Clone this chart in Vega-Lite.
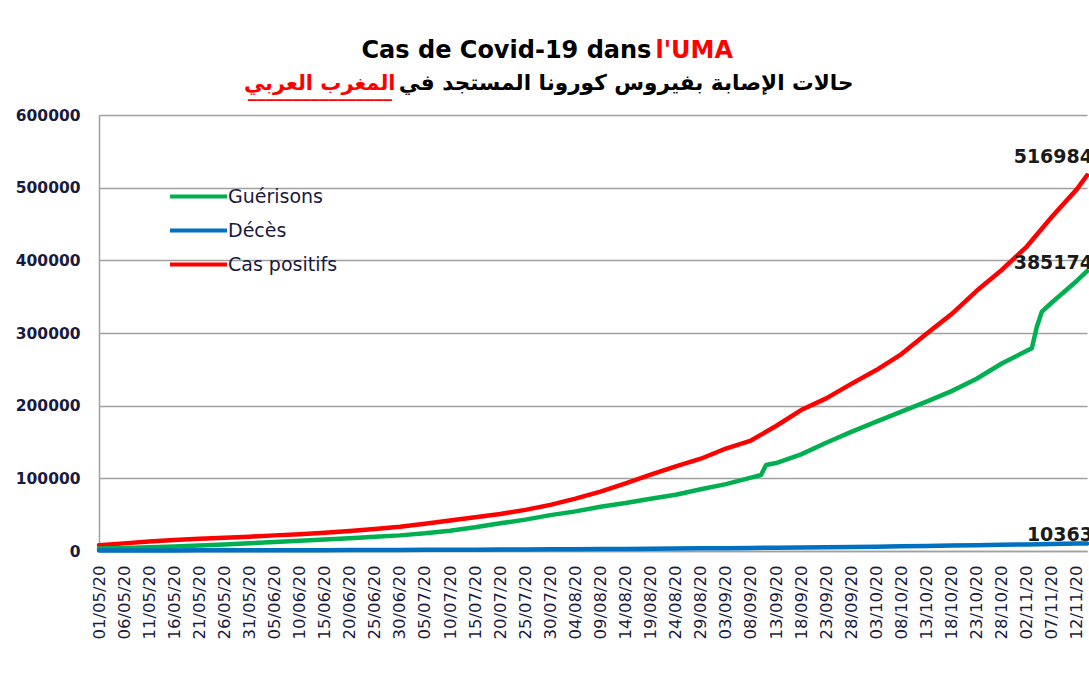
{
  "$schema": "https://vega.github.io/schema/vega-lite/v6.json",
  "width": 988,
  "height": 436,
  "autosize": {"type": "none"},
  "padding": {"left": 99, "top": 115, "right": 2, "bottom": 134},
  "background": "#ffffff",
  "title": {
    "text": "________________",
    "color": "#ff0000",
    "fontSize": 18,
    "fontWeight": "bold",
    "font": "DejaVu Sans",
    "anchor": "start",
    "frame": "group",
    "dx": 149,
    "dy": 67
  },
  "config": {
    "view": {"stroke": null},
    "font": "DejaVu Sans"
  },
  "data": {
    "values": [
      {"date": "2020-05-01", "serie": "Cas positifs", "value": 8000},
      {"date": "2020-05-06", "serie": "Cas positifs", "value": 10500},
      {"date": "2020-05-11", "serie": "Cas positifs", "value": 13200},
      {"date": "2020-05-16", "serie": "Cas positifs", "value": 15000},
      {"date": "2020-05-21", "serie": "Cas positifs", "value": 16800},
      {"date": "2020-05-26", "serie": "Cas positifs", "value": 18300},
      {"date": "2020-05-31", "serie": "Cas positifs", "value": 19700},
      {"date": "2020-06-05", "serie": "Cas positifs", "value": 21500},
      {"date": "2020-06-10", "serie": "Cas positifs", "value": 23200},
      {"date": "2020-06-15", "serie": "Cas positifs", "value": 25200},
      {"date": "2020-06-20", "serie": "Cas positifs", "value": 27400},
      {"date": "2020-06-25", "serie": "Cas positifs", "value": 30300},
      {"date": "2020-06-30", "serie": "Cas positifs", "value": 33400},
      {"date": "2020-07-05", "serie": "Cas positifs", "value": 37600},
      {"date": "2020-07-10", "serie": "Cas positifs", "value": 42000},
      {"date": "2020-07-15", "serie": "Cas positifs", "value": 46300},
      {"date": "2020-07-20", "serie": "Cas positifs", "value": 50900},
      {"date": "2020-07-25", "serie": "Cas positifs", "value": 56600},
      {"date": "2020-07-30", "serie": "Cas positifs", "value": 63500},
      {"date": "2020-08-04", "serie": "Cas positifs", "value": 72000},
      {"date": "2020-08-09", "serie": "Cas positifs", "value": 81600},
      {"date": "2020-08-14", "serie": "Cas positifs", "value": 93000},
      {"date": "2020-08-19", "serie": "Cas positifs", "value": 105000},
      {"date": "2020-08-24", "serie": "Cas positifs", "value": 116500},
      {"date": "2020-08-29", "serie": "Cas positifs", "value": 127000},
      {"date": "2020-09-03", "serie": "Cas positifs", "value": 141000},
      {"date": "2020-09-08", "serie": "Cas positifs", "value": 152000},
      {"date": "2020-09-13", "serie": "Cas positifs", "value": 172000},
      {"date": "2020-09-18", "serie": "Cas positifs", "value": 194000},
      {"date": "2020-09-23", "serie": "Cas positifs", "value": 210000},
      {"date": "2020-09-28", "serie": "Cas positifs", "value": 230000},
      {"date": "2020-10-03", "serie": "Cas positifs", "value": 249000},
      {"date": "2020-10-08", "serie": "Cas positifs", "value": 271000},
      {"date": "2020-10-13", "serie": "Cas positifs", "value": 299000},
      {"date": "2020-10-18", "serie": "Cas positifs", "value": 326000},
      {"date": "2020-10-23", "serie": "Cas positifs", "value": 358000},
      {"date": "2020-10-28", "serie": "Cas positifs", "value": 386700},
      {"date": "2020-11-02", "serie": "Cas positifs", "value": 419000},
      {"date": "2020-11-07", "serie": "Cas positifs", "value": 460000},
      {"date": "2020-11-12", "serie": "Cas positifs", "value": 498000},
      {"date": "2020-11-14", "serie": "Cas positifs", "value": 516984},
      {"date": "2020-05-01", "serie": "Guérisons", "value": 3500},
      {"date": "2020-05-06", "serie": "Guérisons", "value": 4300},
      {"date": "2020-05-11", "serie": "Guérisons", "value": 5000},
      {"date": "2020-05-16", "serie": "Guérisons", "value": 6300},
      {"date": "2020-05-21", "serie": "Guérisons", "value": 7600},
      {"date": "2020-05-26", "serie": "Guérisons", "value": 9000},
      {"date": "2020-05-31", "serie": "Guérisons", "value": 10600},
      {"date": "2020-06-05", "serie": "Guérisons", "value": 12300},
      {"date": "2020-06-10", "serie": "Guérisons", "value": 14200},
      {"date": "2020-06-15", "serie": "Guérisons", "value": 15900},
      {"date": "2020-06-20", "serie": "Guérisons", "value": 17500},
      {"date": "2020-06-25", "serie": "Guérisons", "value": 19500},
      {"date": "2020-06-30", "serie": "Guérisons", "value": 21500},
      {"date": "2020-07-05", "serie": "Guérisons", "value": 24300},
      {"date": "2020-07-10", "serie": "Guérisons", "value": 28000},
      {"date": "2020-07-15", "serie": "Guérisons", "value": 32600},
      {"date": "2020-07-20", "serie": "Guérisons", "value": 38100},
      {"date": "2020-07-25", "serie": "Guérisons", "value": 43200},
      {"date": "2020-07-30", "serie": "Guérisons", "value": 49400},
      {"date": "2020-08-04", "serie": "Guérisons", "value": 54500},
      {"date": "2020-08-09", "serie": "Guérisons", "value": 61000},
      {"date": "2020-08-14", "serie": "Guérisons", "value": 66000},
      {"date": "2020-08-19", "serie": "Guérisons", "value": 72000},
      {"date": "2020-08-24", "serie": "Guérisons", "value": 77500},
      {"date": "2020-08-29", "serie": "Guérisons", "value": 85000},
      {"date": "2020-09-03", "serie": "Guérisons", "value": 92000},
      {"date": "2020-09-08", "serie": "Guérisons", "value": 101000},
      {"date": "2020-09-10", "serie": "Guérisons", "value": 104600},
      {"date": "2020-09-11", "serie": "Guérisons", "value": 118300},
      {"date": "2020-09-13", "serie": "Guérisons", "value": 121000},
      {"date": "2020-09-18", "serie": "Guérisons", "value": 133000},
      {"date": "2020-09-23", "serie": "Guérisons", "value": 149000},
      {"date": "2020-09-28", "serie": "Guérisons", "value": 164000},
      {"date": "2020-10-03", "serie": "Guérisons", "value": 178000},
      {"date": "2020-10-08", "serie": "Guérisons", "value": 191700},
      {"date": "2020-10-13", "serie": "Guérisons", "value": 205500},
      {"date": "2020-10-18", "serie": "Guérisons", "value": 220000},
      {"date": "2020-10-23", "serie": "Guérisons", "value": 237000},
      {"date": "2020-10-28", "serie": "Guérisons", "value": 258000},
      {"date": "2020-11-02", "serie": "Guérisons", "value": 275500},
      {"date": "2020-11-03", "serie": "Guérisons", "value": 278900},
      {"date": "2020-11-04", "serie": "Guérisons", "value": 308700},
      {"date": "2020-11-05", "serie": "Guérisons", "value": 329300},
      {"date": "2020-11-07", "serie": "Guérisons", "value": 342000},
      {"date": "2020-11-12", "serie": "Guérisons", "value": 372000},
      {"date": "2020-11-14", "serie": "Guérisons", "value": 385174},
      {"date": "2020-05-01", "serie": "Décès", "value": 650},
      {"date": "2020-05-06", "serie": "Décès", "value": 720},
      {"date": "2020-05-11", "serie": "Décès", "value": 790},
      {"date": "2020-05-16", "serie": "Décès", "value": 850},
      {"date": "2020-05-21", "serie": "Décès", "value": 900},
      {"date": "2020-05-26", "serie": "Décès", "value": 950},
      {"date": "2020-05-31", "serie": "Décès", "value": 990},
      {"date": "2020-06-05", "serie": "Décès", "value": 1040},
      {"date": "2020-06-10", "serie": "Décès", "value": 1090},
      {"date": "2020-06-15", "serie": "Décès", "value": 1150},
      {"date": "2020-06-20", "serie": "Décès", "value": 1230},
      {"date": "2020-06-25", "serie": "Décès", "value": 1330},
      {"date": "2020-06-30", "serie": "Décès", "value": 1450},
      {"date": "2020-07-05", "serie": "Décès", "value": 1570},
      {"date": "2020-07-10", "serie": "Décès", "value": 1700},
      {"date": "2020-07-15", "serie": "Décès", "value": 1820},
      {"date": "2020-07-20", "serie": "Décès", "value": 1950},
      {"date": "2020-07-25", "serie": "Décès", "value": 2100},
      {"date": "2020-07-30", "serie": "Décès", "value": 2280},
      {"date": "2020-08-04", "serie": "Décès", "value": 2480},
      {"date": "2020-08-09", "serie": "Décès", "value": 2700},
      {"date": "2020-08-14", "serie": "Décès", "value": 2920},
      {"date": "2020-08-19", "serie": "Décès", "value": 3150},
      {"date": "2020-08-24", "serie": "Décès", "value": 3400},
      {"date": "2020-08-29", "serie": "Décès", "value": 3650},
      {"date": "2020-09-03", "serie": "Décès", "value": 3930},
      {"date": "2020-09-08", "serie": "Décès", "value": 4220},
      {"date": "2020-09-13", "serie": "Décès", "value": 4530},
      {"date": "2020-09-18", "serie": "Décès", "value": 4850},
      {"date": "2020-09-23", "serie": "Décès", "value": 5200},
      {"date": "2020-09-28", "serie": "Décès", "value": 5550},
      {"date": "2020-10-03", "serie": "Décès", "value": 5950},
      {"date": "2020-10-08", "serie": "Décès", "value": 6400},
      {"date": "2020-10-13", "serie": "Décès", "value": 6900},
      {"date": "2020-10-18", "serie": "Décès", "value": 7450},
      {"date": "2020-10-23", "serie": "Décès", "value": 8000},
      {"date": "2020-10-28", "serie": "Décès", "value": 8550},
      {"date": "2020-11-02", "serie": "Décès", "value": 9100},
      {"date": "2020-11-07", "serie": "Décès", "value": 9650},
      {"date": "2020-11-12", "serie": "Décès", "value": 10150},
      {"date": "2020-11-14", "serie": "Décès", "value": 10363}
    ]
  },
  "resolve": {"axis": {"x": "independent", "y": "independent"}},
  "layer": [
    {
      "mark": {"type": "line", "strokeWidth": 4.5, "strokeJoin": "round", "strokeCap": "round"},
      "encoding": {
        "x": {
          "field": "date",
          "type": "temporal",
          "scale": {
            "type": "utc",
            "domain": [
              {"year": 2020, "month": 5, "date": 1, "utc": true},
              {"year": 2020, "month": 11, "date": 14, "utc": true}
            ]
          },
          "axis": {
            "orient": "bottom",
            "values": [
              {"year": 2020, "month": 5, "date": 1, "utc": true},
              {"year": 2020, "month": 5, "date": 6, "utc": true},
              {"year": 2020, "month": 5, "date": 11, "utc": true},
              {"year": 2020, "month": 5, "date": 16, "utc": true},
              {"year": 2020, "month": 5, "date": 21, "utc": true},
              {"year": 2020, "month": 5, "date": 26, "utc": true},
              {"year": 2020, "month": 5, "date": 31, "utc": true},
              {"year": 2020, "month": 6, "date": 5, "utc": true},
              {"year": 2020, "month": 6, "date": 10, "utc": true},
              {"year": 2020, "month": 6, "date": 15, "utc": true},
              {"year": 2020, "month": 6, "date": 20, "utc": true},
              {"year": 2020, "month": 6, "date": 25, "utc": true},
              {"year": 2020, "month": 6, "date": 30, "utc": true},
              {"year": 2020, "month": 7, "date": 5, "utc": true},
              {"year": 2020, "month": 7, "date": 10, "utc": true},
              {"year": 2020, "month": 7, "date": 15, "utc": true},
              {"year": 2020, "month": 7, "date": 20, "utc": true},
              {"year": 2020, "month": 7, "date": 25, "utc": true},
              {"year": 2020, "month": 7, "date": 30, "utc": true},
              {"year": 2020, "month": 8, "date": 4, "utc": true},
              {"year": 2020, "month": 8, "date": 9, "utc": true},
              {"year": 2020, "month": 8, "date": 14, "utc": true},
              {"year": 2020, "month": 8, "date": 19, "utc": true},
              {"year": 2020, "month": 8, "date": 24, "utc": true},
              {"year": 2020, "month": 8, "date": 29, "utc": true},
              {"year": 2020, "month": 9, "date": 3, "utc": true},
              {"year": 2020, "month": 9, "date": 8, "utc": true},
              {"year": 2020, "month": 9, "date": 13, "utc": true},
              {"year": 2020, "month": 9, "date": 18, "utc": true},
              {"year": 2020, "month": 9, "date": 23, "utc": true},
              {"year": 2020, "month": 9, "date": 28, "utc": true},
              {"year": 2020, "month": 10, "date": 3, "utc": true},
              {"year": 2020, "month": 10, "date": 8, "utc": true},
              {"year": 2020, "month": 10, "date": 13, "utc": true},
              {"year": 2020, "month": 10, "date": 18, "utc": true},
              {"year": 2020, "month": 10, "date": 23, "utc": true},
              {"year": 2020, "month": 10, "date": 28, "utc": true},
              {"year": 2020, "month": 11, "date": 2, "utc": true},
              {"year": 2020, "month": 11, "date": 7, "utc": true},
              {"year": 2020, "month": 11, "date": 12, "utc": true}
            ],
            "labelExpr": "utcFormat(datum.value, '%d/%m/%y')",
            "labelAngle": 270,
            "labelAlign": "right",
            "labelBaseline": "middle",
            "labelFont": "DejaVu Sans",
            "labelFontSize": 16.5,
            "labelColor": "#1a1a40",
            "labelPadding": 14,
            "labelOverlap": false,
            "labelFlush": false,
            "ticks": false,
            "grid": false,
            "domainColor": "#a0a0a0",
            "domainWidth": 1.5,
            "title": "حالات الإصابة بفيروس كورونا المستجد في",
            "titleFont": "DejaVu Sans",
            "titleFontSize": 21.6,
            "titleFontWeight": "bold",
            "titleColor": "#000000",
            "titleAngle": 0,
            "titleAlign": "right",
            "titleBaseline": "alphabetic",
            "titleX": 754,
            "titleY": -462
          }
        },
        "y": {
          "field": "value",
          "type": "quantitative",
          "scale": {"domain": [0, 600000], "nice": false},
          "axis": {
            "orient": "left",
            "values": [0, 100000, 200000, 300000, 400000, 500000, 600000],
            "format": "d",
            "labelFont": "DejaVu Sans",
            "labelFontWeight": "bold",
            "labelFontSize": 15.5,
            "labelColor": "#1a1a40",
            "labelPadding": 19,
            "ticks": false,
            "grid": true,
            "gridColor": "#a0a0a0",
            "gridWidth": 1.5,
            "domainColor": "#a0a0a0",
            "domainWidth": 1.5,
            "title": "Cas de Covid-19 dans",
            "titleFont": "DejaVu Sans",
            "titleFontSize": 24,
            "titleFontWeight": "bold",
            "titleColor": "#000000",
            "titleAngle": 0,
            "titleAlign": "left",
            "titleBaseline": "alphabetic",
            "titleX": 262,
            "titleY": -58
          }
        },
        "color": {
          "field": "serie",
          "type": "nominal",
          "scale": {
            "domain": ["Guérisons", "Décès", "Cas positifs"],
            "range": ["#00b050", "#0070c0", "#ff0000"]
          },
          "legend": {
            "orient": "none",
            "legendX": 69,
            "legendY": 70,
            "title": null,
            "padding": 0,
            "symbolType": "M-1,0L5,0",
            "symbolSize": 361,
            "symbolStrokeWidth": 4,
            "labelFont": "DejaVu Sans",
            "labelFontSize": 19,
            "labelColor": "#1a1a40",
            "labelOffset": 37,
            "rowPadding": 12
          }
        }
      }
    },
    {
      "transform": [
        {"filter": "datum.serie === 'Cas positifs' && utcFormat(datum.date, '%Y-%m-%d') === '2020-11-14'"}
      ],
      "mark": {"type": "text", "align": "right", "baseline": "alphabetic", "dx": 6, "dy": -12, "font": "DejaVu Sans", "fontWeight": "bold", "fontSize": 19, "color": "#1a1a1a"},
      "encoding": {
        "x": {
          "field": "date",
          "type": "temporal",
          "axis": {
            "orient": "top",
            "labels": false,
            "ticks": false,
            "domain": false,
            "grid": false,
            "title": "l'UMA",
            "titleFont": "DejaVu Sans",
            "titleFontSize": 24,
            "titleFontWeight": "bold",
            "titleColor": "#ff0000",
            "titleAngle": 0,
            "titleAlign": "left",
            "titleBaseline": "alphabetic",
            "titleX": 556,
            "titleY": -58
          }
        },
        "y": {
          "field": "value",
          "type": "quantitative",
          "axis": {
            "orient": "right",
            "labels": false,
            "ticks": false,
            "domain": false,
            "grid": false,
            "title": "المغرب العربي",
            "titleFont": "DejaVu Sans",
            "titleFontSize": 21,
            "titleFontWeight": "bold",
            "titleColor": "#ff0000",
            "titleAngle": 0,
            "titleAlign": "right",
            "titleBaseline": "alphabetic",
            "titleX": -692,
            "titleY": -26
          }
        },
        "text": {"field": "value", "type": "quantitative", "format": "d"}
      }
    },
    {
      "transform": [
        {"filter": "datum.serie !== 'Cas positifs' && utcFormat(datum.date, '%Y-%m-%d') === '2020-11-14'"}
      ],
      "mark": {"type": "text", "align": "right", "baseline": "alphabetic", "dx": 6, "dy": -2, "font": "DejaVu Sans", "fontWeight": "bold", "fontSize": 19, "color": "#1a1a1a"},
      "encoding": {
        "x": {"field": "date", "type": "temporal", "axis": null},
        "y": {"field": "value", "type": "quantitative", "axis": null},
        "text": {"field": "value", "type": "quantitative", "format": "d"}
      }
    }
  ]
}
